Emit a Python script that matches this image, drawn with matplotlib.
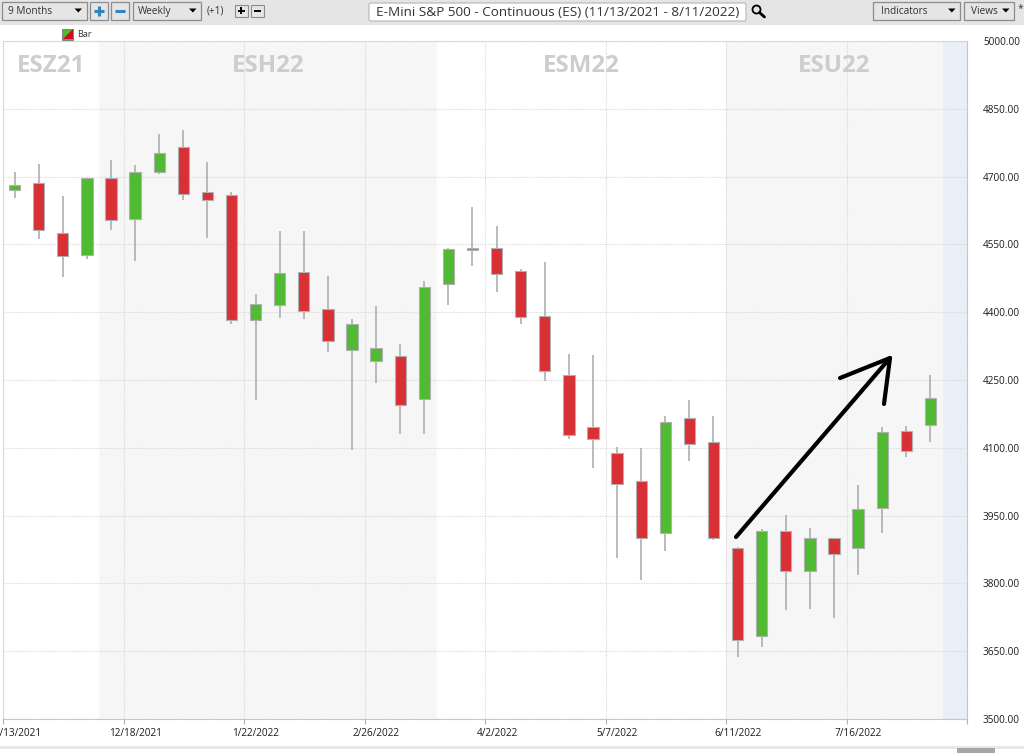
import matplotlib
matplotlib.use("Agg")
import matplotlib.pyplot as plt
import numpy as np
from matplotlib.patches import Rectangle, FancyBboxPatch, Polygon
from matplotlib.transforms import ScaledTranslation

plt.rcParams['font.family'] = ['Open Sans', 'DejaVu Sans']

# weekly candles
opens = [4671, 4686, 4575, 4527, 4698, 4606, 4711, 4765, 4665, 4660,
         4382, 4417, 4490, 4406, 4317, 4291, 4302, 4208, 4462, 4537,
         4541, 4492, 4392, 4260, 4145, 4088, 4027, 3911, 4167, 4113,
         3878, 3684, 3916, 3827, 3900, 3879, 3967, 4138, 4150]
highs = [4711, 4728, 4657, 4698, 4737, 4726, 4794, 4802, 4733, 4666,
         4440, 4580, 4580, 4479, 4384, 4413, 4329, 4469, 4541, 4633,
         4591, 4495, 4511, 4307, 4305, 4102, 4099, 4170, 4205, 4170,
         3880, 3920, 3951, 3922, 3900, 4018, 4145, 4148, 4261]
lows = [4653, 4563, 4477, 4518, 4582, 4513, 4706, 4648, 4565, 4374,
        4206, 4387, 4385, 4313, 4095, 4244, 4131, 4131, 4417, 4502,
        4445, 4375, 4247, 4120, 4056, 3856, 3808, 3872, 4071, 3896,
        3638, 3660, 3741, 3743, 3724, 3819, 3912, 4079, 4112]
closes = [4681, 4581, 4524, 4698, 4604, 4710, 4752, 4662, 4648, 4382,
          4418, 4486, 4403, 4336, 4373, 4321, 4195, 4455, 4540, 4541,
          4485, 4389, 4269, 4129, 4120, 4021, 3900, 4157, 4108, 3900,
          3674, 3916, 3827, 3900, 3866, 3965, 4134, 4094, 4210]

date_ticks = [0, 5, 10, 15, 20, 25, 30, 35, 40]
date_labels = ['11/13/2021', '12/18/2021', '1/22/2022', '2/26/2022', '4/2/2022',
               '5/7/2022', '6/11/2022', '7/16/2022', '']
price_ticks = [3500, 3650, 3800, 3950, 4100, 4250, 4400, 4550, 4700, 4850, 5000]

contracts = ['ESZ21', 'ESH22', 'ESM22', 'ESU22']
contract_start = [0, 4, 18, 30]
contract_end = [4, 18, 30, 39]
contract_shaded = [False, True, False, True]

RED = '#d93036'
GREEN = '#50ba32'
WICK = '#a8a8a8'
GRID = '#d6d6d6'
BLUE_LINE = '#9fcbe8'
TEXT = '#1c1c1c'

fig = plt.figure(figsize=(10.24, 7.53), dpi=100, facecolor='white')

# chart area
ax = fig.add_axes([3 / 1024, 1 - 719 / 753, 964 / 1024, 678 / 753])
ax.set_xlim(0, 40)
ax.set_ylim(3500, 5000)

for name, start, end, shaded in zip(contracts, contract_start, contract_end, contract_shaded):
    if shaded:
        ax.axvspan(start, end, color='#f6f6f6', lw=0, zorder=0)
    ax.text((start + end) / 2, 4945, name, ha='center', va='center', fontsize=17.4,
            fontweight='bold', color='#cdcdcd', zorder=1)
ax.axvspan(39, 40, color='#e9eef7', lw=0, zorder=0)

ax.set_axisbelow(True)
ax.grid(True, color=GRID, lw=0.8, ls=(0, (1, 1.2)))

x = np.arange(len(opens)) + 0.48
opens = np.array(opens)
closes = np.array(closes)
colors = [GREEN if c >= o else RED for o, c in zip(opens, closes)]
ax.vlines(x, lows, highs, color=WICK, lw=1.1, zorder=2)
ax.bar(x, np.abs(closes - opens), bottom=np.minimum(opens, closes), width=0.47,
       color=colors, edgecolor='#b0b0b0', lw=0.8, zorder=3)

ax.yaxis.tick_right()
ax.set_yticks(price_ticks)
ax.set_yticklabels(['%.2f' % p for p in price_ticks], fontsize=7.2, color=TEXT)
ax.tick_params(axis='y', length=0, pad=11.5)
ax.set_xticks(date_ticks)
ax.set_xticklabels(date_labels, fontsize=7.2, color=TEXT, fontweight='medium')
ax.tick_params(axis='x', length=3.5, width=0.8, color='#b0b0b0', pad=3)
offset = ScaledTranslation(12 / 100, 0, fig.dpi_scale_trans)
for label in ax.get_xticklabels():
    label.set_transform(label.get_transform() + offset)

for side in ['top', 'left']:
    ax.spines[side].set(color=GRID, lw=0.8, ls=(0, (1, 1.2)))
for side in ['bottom', 'right']:
    ax.spines[side].set(color=BLUE_LINE, lw=0.8, ls=(0, (1, 1.2)))

# window chrome and the hand drawn arrow, in pixel coordinates
ui = fig.add_axes([0, 0, 1, 1], facecolor='none')
ui.set_xlim(0, 1024)
ui.set_ylim(753, 0)
ui.axis('off')

ui.add_patch(Rectangle((0, 0), 1024, 25, fc='#e5e5e5', ec='none'))
ui.add_patch(Rectangle((0, 745.5), 1024, 3, fc='#e8e8e8', ec='none'))
ui.add_patch(Rectangle((957, 748), 38, 5, fc='#a6a6a6', ec='none'))


def combo(x0, x1, label, tx):
    ui.add_patch(Rectangle((x0, 1.5), x1 - x0, 18, fc='#e5e5e5', ec='#8c8c8c', lw=0.9))
    ui.text(tx, 11, label, fontsize=7.2, color='#333333', va='center')
    ui.add_patch(Polygon([[x1 - 12, 8.5], [x1 - 4.5, 8.5], [x1 - 8.2, 12.5]], fc='black', ec='none'))


combo(1.5, 86.5, '9 Months', 8)
combo(132.5, 201, 'Weekly', 138)
combo(873, 960, 'Indicators', 881)
combo(963.5, 1014, 'Views', 971)
ui.text(1018, 9, '*', fontsize=7.5, color='#333333', va='center')
ui.text(207, 11, '(+1)', fontsize=7.2, color='#333333', va='center')

for x0, sign in [(89.5, '+'), (110.5, '-')]:
    ui.add_patch(Rectangle((x0, 1.5), 18, 18, fc='#e5e5e5', ec='#8c8c8c', lw=0.9))
    ui.plot([x0 + 4, x0 + 14], [10.5, 10.5], color='#2e86c1', lw=2.2, solid_capstyle='butt')
    if sign == '+':
        ui.plot([x0 + 9, x0 + 9], [5.5, 15.5], color='#2e86c1', lw=2.2, solid_capstyle='butt')

for x0, sign in [(234.5, '+'), (250.5, '-')]:
    ui.add_patch(Rectangle((x0, 4.5), 13, 12, fc='#e5e5e5', ec='#8c8c8c', lw=0.8))
    ui.plot([x0 + 3, x0 + 10], [10.5, 10.5], color='black', lw=1.4, solid_capstyle='butt')
    if sign == '+':
        ui.plot([x0 + 6.5, x0 + 6.5], [7, 14], color='black', lw=1.4, solid_capstyle='butt')

ui.add_patch(FancyBboxPatch((369, 3), 377, 18, boxstyle='round,pad=0,rounding_size=2',
                            fc='white', ec='#b5b5b5', lw=0.8))
ui.text(376, 12, 'E-Mini S&P 500 - Continuous (ES) (11/13/2021 - 8/11/2022)',
        fontsize=9.7, color='#333333', va='center')

# magnifier
ui.add_patch(plt.Circle((756.5, 9.5), 4, fc='none', ec='black', lw=1.3))
ui.plot([759.5, 764.5], [12.5, 17], color='black', lw=2, solid_capstyle='round')

# legend swatch
ui.add_patch(Rectangle((62, 28.5), 11, 11, fc=GREEN, ec='#777777', lw=0.6))
ui.add_patch(Polygon([[62.5, 39], [72.5, 39], [72.5, 29]], fc='#c8101a', ec='none'))
ui.text(77, 34.5, 'Bar', fontsize=6.6, color='#333333', va='center')

# hand drawn arrow
ui.plot([736, 890], [537, 358], color='black', lw=3.0, solid_capstyle='round')
ui.plot([840, 890, 884], [378, 358, 404], color='black', lw=3.0,
        solid_capstyle='round', solid_joinstyle='round')

fig.savefig('out.png', dpi=100)
plt.close(fig)
